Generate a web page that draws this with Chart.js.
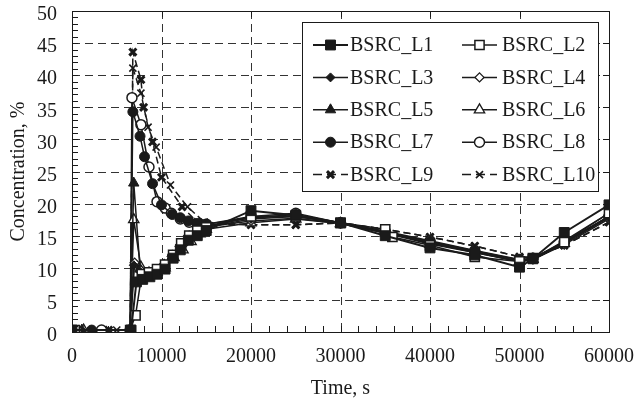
<!DOCTYPE html>
<html>
<head>
<meta charset="utf-8">
<script src="https://cdn.jsdelivr.net/npm/chart.js@4/dist/chart.umd.min.js"></script>
<style>
  html, body { margin: 0; padding: 0; background: #fff; }
  #wrap { width: 644px; height: 408px; }
</style>
</head>
<body>
<div id="wrap"><canvas id="conc" width="644" height="408"></canvas></div>
<script>
// sensor readings: time (s) and concentration (%) per location
const l1Time = [0, 6600, 7200, 7900, 8700, 9500, 10400, 11300, 12100, 13000, 14000, 15000, 20000, 25000, 30000, 35000, 40000, 45000, 50000, 51500, 55000, 60000];
const l1Conc = [0.3, 0.3, 7.8, 8.2, 8.6, 9.0, 9.8, 11.5, 12.8, 14.3, 15.0, 15.8, 18.9, 18.2, 17.0, 15.0, 13.1, 12.0, 10.1, 11.4, 15.5, 19.8];

const l2Time = [300, 6500, 7100, 7800, 8600, 9500, 10400, 11300, 12200, 13100, 14000, 15000, 20000, 25000, 30000, 35000, 35800, 40000, 45000, 50000, 51500, 55000, 60000];
const l2Conc = [0.3, 0.3, 2.6, 9.0, 9.3, 9.8, 10.5, 12.0, 13.8, 15.0, 15.8, 16.3, 18.0, 18.0, 17.0, 16.0, 14.8, 13.5, 11.7, 11.0, 11.5, 14.0, 18.5];

const l3Time = [0, 6500, 6900, 7600, 8400, 9300, 10200, 11100, 12000, 13000, 14000, 15000, 20000, 25000, 30000, 35000, 40000, 45000, 50000, 51500, 55000, 60000];
const l3Conc = [0.3, 0.3, 10.4, 9.4, 9.0, 9.5, 10.3, 11.8, 13.3, 14.8, 15.8, 16.3, 17.6, 18.0, 17.0, 15.6, 14.0, 12.6, 11.0, 11.3, 13.8, 17.8];

const l4Time = [700, 6500, 7000, 7700, 8500, 9400, 10300, 11200, 12100, 13100, 14100, 15000, 20000, 25000, 30000, 35000, 40000, 45000, 50000, 51500, 55000, 60000];
const l4Conc = [0.3, 0.3, 10.8, 9.6, 9.3, 9.6, 10.6, 12.0, 13.6, 15.0, 15.9, 16.4, 17.3, 17.7, 16.9, 15.4, 13.9, 12.4, 11.0, 11.3, 13.6, 17.6];

const l5Time = [1100, 6500, 6900, 7600, 8500, 9400, 10300, 11200, 12100, 13000, 14000, 15000, 20000, 25000, 30000, 35000, 40000, 45000, 50000, 51500, 55000, 60000];
const l5Conc = [0.3, 0.3, 23.2, 9.8, 9.0, 9.4, 10.2, 11.8, 13.2, 14.7, 15.9, 16.5, 17.8, 18.1, 17.0, 15.6, 13.8, 12.5, 11.0, 11.4, 14.2, 18.5];

const l6Time = [1300, 6500, 6900, 7700, 8600, 9500, 10400, 11400, 12400, 13300, 14300, 15000, 20000, 25000, 30000, 35000, 40000, 45000, 50000, 51500, 55000, 60000];
const l6Conc = [0.3, 0.3, 17.5, 10.1, 9.2, 9.3, 10.0, 11.6, 12.8, 14.1, 15.3, 16.0, 17.0, 17.6, 16.9, 15.4, 13.7, 12.4, 11.0, 11.3, 13.8, 18.0];

const l7Time = [2200, 6500, 6800, 7600, 8100, 9000, 10000, 11200, 12100, 13000, 14000, 15000, 20000, 25000, 30000, 35000, 40000, 45000, 50000, 51500, 55000, 60000];
const l7Conc = [0.3, 0.3, 34.3, 30.5, 27.3, 23.1, 19.8, 18.3, 17.8, 17.3, 16.9, 16.8, 17.8, 18.3, 17.0, 15.6, 14.1, 12.6, 11.2, 11.4, 14.0, 18.0];

const l8Time = [3300, 6500, 6700, 7700, 8600, 9500, 10400, 11100, 12100, 13100, 14100, 15000, 20000, 25000, 30000, 35000, 40000, 45000, 50000, 51500, 55000, 60000];
const l8Conc = [0.3, 0.3, 36.5, 32.3, 25.7, 20.3, 19.3, 18.5, 17.6, 17.1, 16.8, 16.8, 18.0, 18.5, 17.0, 15.7, 14.2, 12.7, 11.3, 11.5, 14.0, 18.0];

const l9Time = [4100, 6500, 6800, 7700, 8000, 9000, 10000, 12300, 14000, 15000, 20000, 25000, 30000, 35000, 40000, 45000, 50000, 51500, 55000, 60000];
const l9Conc = [0.3, 0.3, 43.6, 39.3, 35.0, 29.6, 24.1, 19.5, 17.1, 16.8, 16.7, 16.7, 17.0, 16.0, 14.8, 13.4, 11.7, 11.6, 13.5, 17.1];

const l10Time = [5000, 6500, 6800, 7700, 8500, 9400, 11000, 12900, 14800, 20000, 25000, 30000, 35000, 40000, 45000, 50000, 51500, 55000, 60000];
const l10Conc = [0.3, 0.3, 41.1, 37.2, 31.9, 28.8, 22.9, 19.5, 17.1, 16.7, 16.7, 17.0, 16.0, 14.8, 13.4, 11.7, 11.6, 13.5, 17.1];

const seriesNames = ["BSRC_L1", "BSRC_L2", "BSRC_L3", "BSRC_L4", "BSRC_L5", "BSRC_L6", "BSRC_L7", "BSRC_L8", "BSRC_L9", "BSRC_L10"];
const xTicks = [0, 10000, 20000, 30000, 40000, 50000, 60000];
const yTicks = [0, 5, 10, 15, 20, 25, 30, 35, 40, 45, 50];

const INK = "#1a1a1a";
const FONT = "'Liberation Serif', 'Times New Roman', serif";

function pairs(ts, vs) {
  return ts.map((t, i) => ({ x: t, y: vs[i] }));
}

// marker look for each location
const markerStyles = [
  { style: "rect", radius: 7, fill: INK, bw: 1 },
  { style: "rect", radius: 6.5, fill: "#fff", bw: 1.5 },
  { style: "rectRot", radius: 4.5, fill: INK, bw: 1 },
  { style: "rectRot", radius: 4.5, fill: "#fff", bw: 1.3 },
  { style: "triangle", radius: 6, fill: INK, bw: 1 },
  { style: "triangle", radius: 6, fill: "#fff", bw: 1.3 },
  { style: "circle", radius: 5, fill: INK, bw: 1 },
  { style: "circle", radius: 5, fill: "#fff", bw: 1.5 },
  { style: "crossRot", radius: 5, fill: INK, bw: 3 },
  { style: "crossRot", radius: 5, fill: INK, bw: 1.6 },
];

const allData = [
  pairs(l1Time, l1Conc), pairs(l2Time, l2Conc), pairs(l3Time, l3Conc), pairs(l4Time, l4Conc),
  pairs(l5Time, l5Conc), pairs(l6Time, l6Conc), pairs(l7Time, l7Conc), pairs(l8Time, l8Conc),
  pairs(l9Time, l9Conc), pairs(l10Time, l10Conc),
];

const datasets = allData.map((data, i) => {
  const m = markerStyles[i];
  return {
    label: seriesNames[i],
    data,
    borderColor: INK,
    borderWidth: i === 0 ? 2 : 1.5,
    borderDash: i >= 8 ? [7, 4] : [],
    pointStyle: m.style,
    pointRadius: m.radius,
    pointBorderWidth: m.bw,
    pointBackgroundColor: m.fill,
    pointBorderColor: INK,
    fill: false,
    tension: 0,
  };
});

// dashed grid at the major ticks of both scales
const dashedGrid = {
  id: "dashedGrid",
  beforeDatasetsDraw(chart) {
    const { ctx, chartArea: a, scales } = chart;
    ctx.save();
    ctx.strokeStyle = "#333";
    ctx.lineWidth = 1;
    ctx.setLineDash([8, 5]);
    ctx.beginPath();
    scales.x.ticks.forEach((t) => {
      const px = Math.round(scales.x.getPixelForValue(t.value)) + 0.5;
      ctx.moveTo(px, a.top);
      ctx.lineTo(px, a.bottom);
    });
    scales.y.ticks.forEach((t) => {
      const py = Math.round(scales.y.getPixelForValue(t.value)) + 0.5;
      ctx.moveTo(a.left, py);
      ctx.lineTo(a.right, py);
    });
    ctx.stroke();
    ctx.restore();
  },
};

// legend box drawn inside the plot, line + marker per entry
const boxLegend = {
  id: "boxLegend",
  afterDatasetsDraw(chart) {
    const ctx = chart.ctx;
    const bx = 302, by = 22, bw = 296, bh = 169;
    ctx.save();
    ctx.fillStyle = "#fff";
    ctx.fillRect(bx, by, bw, bh);
    ctx.strokeStyle = INK;
    ctx.lineWidth = 1;
    ctx.strokeRect(bx + 0.5, by + 0.5, bw, bh);
    ctx.font = "20px " + FONT;
    ctx.textBaseline = "middle";
    const cols = [{ x0: 313, x1: 348, tx: 350 }, { x0: 462, x1: 497, tx: 502 }];
    chart.data.datasets.forEach((ds, i) => {
      const c = cols[i % 2];
      const y = 45 + Math.floor(i / 2) * 32.4;
      ctx.strokeStyle = INK;
      ctx.lineWidth = ds.borderWidth;
      ctx.setLineDash(ds.borderDash.length ? [9, 5] : []);
      ctx.beginPath();
      ctx.moveTo(c.x0, y);
      ctx.lineTo(c.x1, y);
      ctx.stroke();
      ctx.setLineDash([]);
      ctx.fillStyle = ds.pointBackgroundColor;
      ctx.lineWidth = ds.pointBorderWidth;
      Chart.helpers.drawPoint(ctx, {
        pointStyle: ds.pointStyle, radius: ds.pointRadius, borderWidth: ds.pointBorderWidth, rotation: 0,
      }, (c.x0 + c.x1) / 2, y);
      ctx.fillStyle = INK;
      ctx.fillText(ds.label, c.tx, y + 1);
    });
    ctx.restore();
  },
};

// frame with inward major and minor tick marks
const frameTicks = {
  id: "frameTicks",
  afterDraw(chart) {
    const { ctx, chartArea: a, scales } = chart;
    const xs = scales.x, ys = scales.y;
    ctx.save();
    ctx.strokeStyle = INK;
    ctx.lineWidth = 1;
    ctx.setLineDash([]);
    ctx.strokeRect(Math.round(a.left) + 0.5, Math.round(a.top) + 0.5, Math.round(a.right - a.left), Math.round(a.bottom - a.top));
    ctx.beginPath();
    for (let v = 0; v <= 60000; v += 2000) {
      const px = Math.round(xs.getPixelForValue(v)) + 0.5;
      const major = v % 10000 === 0;
      ctx.moveTo(px, a.bottom);
      ctx.lineTo(px, a.bottom - 6);
      if (major) {
        ctx.moveTo(px, a.top);
        ctx.lineTo(px, a.top + 6);
      }
    }
    for (let v = 0; v <= 50; v += 1) {
      const py = Math.round(ys.getPixelForValue(v)) + 0.5;
      const major = v % 5 === 0;
      ctx.moveTo(a.left, py);
      ctx.lineTo(a.left + 6, py);
      if (major) {
        ctx.moveTo(a.right, py);
        ctx.lineTo(a.right - 6, py);
      }
    }
    ctx.stroke();
    ctx.restore();
  },
};

new Chart(document.getElementById("conc"), {
  type: "line",
  data: { datasets },
  options: {
    responsive: false,
    animation: false,
    layout: { padding: { top: 11, right: 35, bottom: 0, left: 0 } },
    plugins: { legend: { display: false }, tooltip: { enabled: false } },
    scales: {
      x: {
        type: "linear",
        min: 0,
        max: 60000,
        afterBuildTicks(scale) { scale.ticks = xTicks.map((v) => ({ value: v })); },
        afterFit(scale) { scale.height = 76; scale.paddingLeft = 0; scale.paddingRight = 0; },
        grid: { display: false, drawTicks: false },
        border: { display: false },
        ticks: { color: INK, font: { family: FONT, size: 20 }, padding: 13, maxRotation: 0, callback: (v) => String(v) },
        title: { display: true, text: "Time, s", color: INK, font: { family: FONT, size: 20 }, padding: { top: 0, bottom: 7 } },
      },
      y: {
        type: "linear",
        min: 0,
        max: 50,
        afterBuildTicks(scale) { scale.ticks = yTicks.map((v) => ({ value: v })); },
        afterFit(scale) { scale.width = 72; scale.paddingTop = 0; scale.paddingBottom = 0; },
        grid: { display: false, drawTicks: false },
        border: { display: false },
        ticks: { color: INK, font: { family: FONT, size: 20 }, padding: 15, labelOffset: 4 },
        title: { display: true, text: "Concentration, %", color: INK, font: { family: FONT, size: 20 }, padding: { top: 7, bottom: 0 } },
      },
    },
  },
  plugins: [dashedGrid, boxLegend, frameTicks],
});
</script>
</body>
</html>
